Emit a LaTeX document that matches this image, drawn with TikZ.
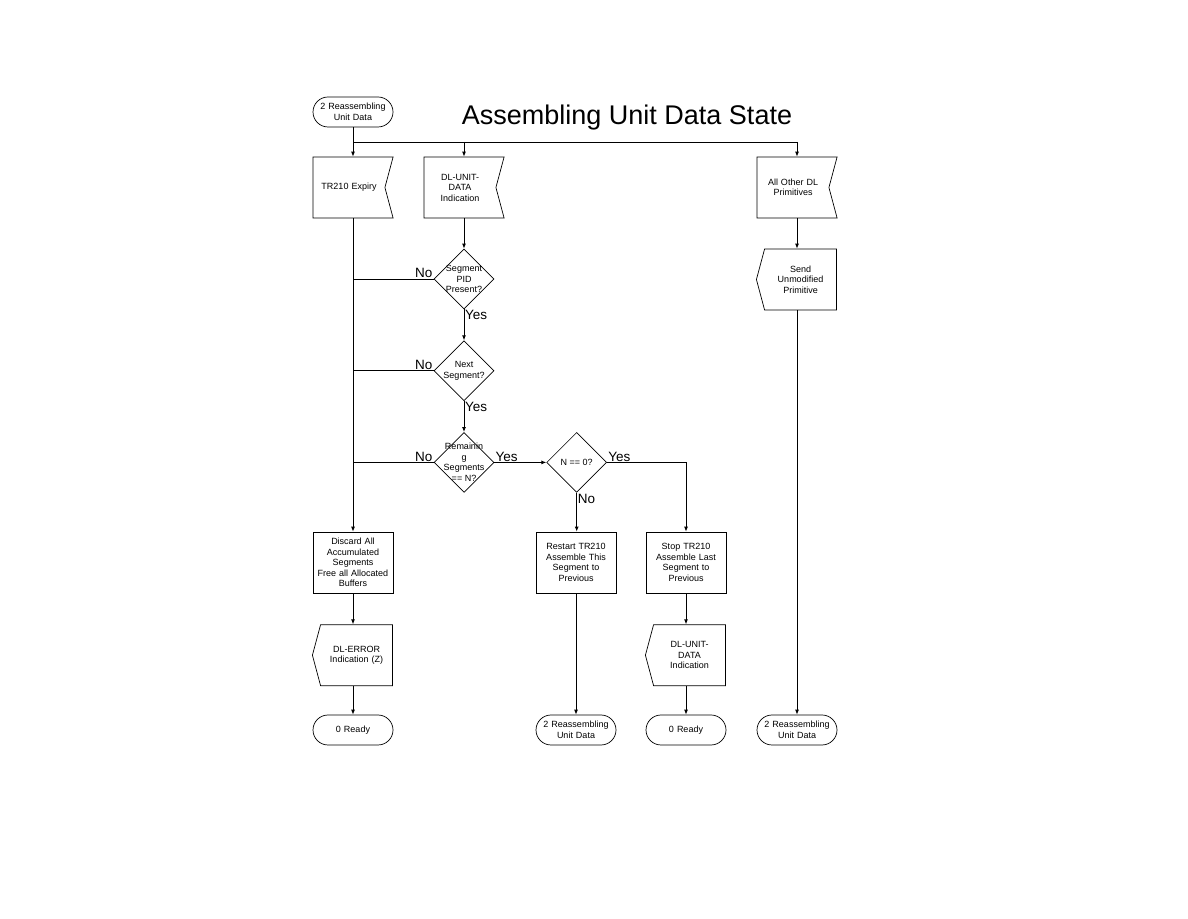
\documentclass[tikz,border=0pt]{standalone}
\usepackage{fontspec}
\setmainfont{Liberation Sans}
\usetikzlibrary{arrows.meta,positioning,shapes.geometric,shapes.symbols}
\newcommand\flowfont{\fontsize{9}{10.5}\selectfont}
\newcommand\yesnofont{\fontsize{13.5}{15}\selectfont}
\tikzset{
  terminal/.style={draw,line width=0.7pt,rounded corners=15pt,minimum width=80pt,
    minimum height=30pt,text width=72pt,align=center,inner sep=1pt,font=\flowfont},
  action/.style={draw,line width=0.7pt,minimum width=80pt,minimum height=61pt,
    text width=76pt,align=center,inner sep=1pt,font=\flowfont},
  inbox/.style={signal,signal to=nowhere,signal from=east,signal pointer angle=150,
    draw,line width=0.7pt,minimum width=80pt,minimum height=61pt,text width=64pt,
    align=center,inner sep=1pt,font=\flowfont,xshift=-4pt},
  outbox/.style={signal,signal to=west,signal pointer angle=150,draw,line width=0.7pt,
    minimum width=80pt,minimum height=61pt,text width=64pt,align=center,inner sep=1pt,
    font=\flowfont,xshift=3.5pt},
  decision/.style={diamond,draw,line width=0.7pt,minimum width=60pt,minimum height=60pt,
    inner sep=0pt},
  answer/.style={font=\yesnofont,inner sep=1pt},
  wire/.style={line width=0.9pt},
  arrow/.style={-{Latex[length=5pt,width=4pt]},line width=0.9pt}
}

\begin{document}
\begin{tikzpicture}[x=1pt,y=1pt,node distance=31pt]
  \useasboundingbox (0,0) rectangle (1188,918);
  % top row
  \node[terminal] (start) at (353,806) {2 Reassembling\\Unit Data};
  \node[font=\fontsize{27}{32}\selectfont] (title) at (627,800) {Assembling Unit Data State};
  \coordinate (bus) at (353,776);
  \node[inbox] (expiry) at (353,730.5) {TR210 Expiry};
  \node[inbox] (unitdata) at (464,730.5) {DL-UNIT-\\DATA\\Indication};
  \node[inbox] (others) at (797,730.5) {All Other DL\\Primitives};
  \node[outbox] (send) at (797,638.5) {Send\\Unmodified\\Primitive};
  % decisions
  \node[decision,label={[font=\flowfont,align=center]center:Segment\\PID\\Present?}]
    (pid) at (464,639) {};
  \node[decision,below=of pid,label={[font=\flowfont,align=center]center:Next\\Segment?}]
    (next) {};
  \node[decision,below=of next,
    label={[font=\flowfont,align=center]center:Remainin\\g\\Segments\\== N?}] (remain) {};
  \node[decision,right=52pt of remain,label={[font=\flowfont]center:N == 0?}] (nzero) {};
  % actions
  \node[action] (discard) at (353,355.5)
    {Discard All\\Accumulated\\Segments\\Free all Allocated\\Buffers};
  \node[outbox,below=of discard] (error) {DL-ERROR\\Indication (Z)};
  \node[terminal] (readyA) at (353,188) {0 Ready};
  \node[action] (restart) at (576,355.5) {Restart TR210\\Assemble This\\Segment to\\Previous};
  \node[terminal] (reasmA) at (576,188) {2 Reassembling\\Unit Data};
  \node[action] (stop) at (686,355.5) {Stop TR210\\Assemble Last\\Segment to\\Previous};
  \node[outbox,below=of stop] (indicate) {DL-UNIT-\\DATA\\Indication};
  \node[terminal] (readyB) at (686,188) {0 Ready};
  \node[terminal] (reasmB) at (797,188) {2 Reassembling\\Unit Data};

  % connectors
  \draw[arrow] (start) -- (start |- expiry.north);
  \draw[wire] (bus) -- (bus -| reasmB);
  \draw[arrow] (bus -| pid) -- (pid |- unitdata.north);
  \draw[arrow] (bus -| reasmB) -- (reasmB |- others.north);
  \draw[arrow] (pid |- unitdata.south) -- (pid);
  \draw[arrow] (pid) -- (next);
  \draw[arrow] (next) -- (remain);
  \draw[arrow] (remain) -- (nzero);
  \draw[arrow] (nzero) -- (nzero |- restart.north);
  \draw[arrow] (nzero.east) -| (stop.north);
  \draw[arrow] (discard |- expiry.south) -- (discard);
  \draw[wire] (pid.west) -- (pid.west -| discard);
  \draw[wire] (next.west) -- (next.west -| discard);
  \draw[wire] (remain.west) -- (remain.west -| discard);
  \draw[arrow] (discard) -- (discard |- error.north);
  \draw[arrow] (readyA |- error.south) -- (readyA);
  \draw[arrow] (restart) -- (reasmA);
  \draw[arrow] (stop) -- (stop |- indicate.north);
  \draw[arrow] (readyB |- indicate.south) -- (readyB);
  \draw[arrow] (reasmB |- others.south) -- (reasmB |- send.north);
  \draw[arrow] (reasmB |- send.south) -- (reasmB);

  % answers
  \node[answer,anchor=south east] at (pid.west) {No};
  \node[answer,anchor=north west] at (pid.south) {Yes};
  \node[answer,anchor=south east] at (next.west) {No};
  \node[answer,anchor=north west] at (next.south) {Yes};
  \node[answer,anchor=south east] at (remain.west) {No};
  \node[answer,anchor=south west] at (remain.east) {Yes};
  \node[answer,anchor=south west] at (nzero.east) {Yes};
  \node[answer,anchor=north west] at (nzero.south) {No};
\end{tikzpicture}
\end{document}
